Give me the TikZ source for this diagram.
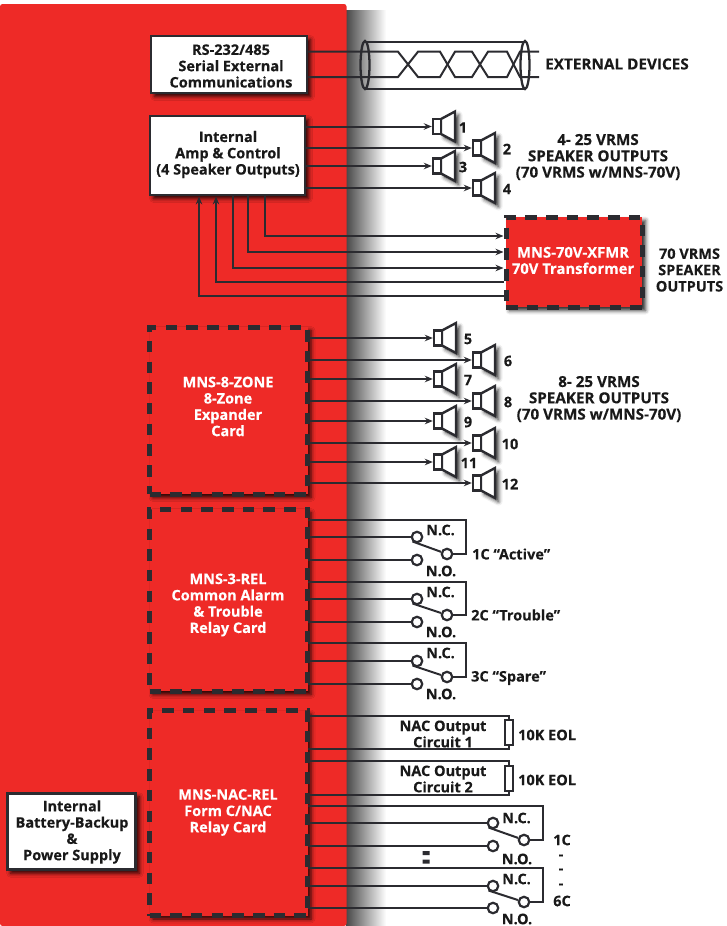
\documentclass[tikz,border=0pt]{standalone}
\usepackage{fontspec}
\setmainfont[BoldFeatures={FakeBold=0.25}]{Open Sans}
\usetikzlibrary{arrows.meta,shadows.blur}
\definecolor{panelred}{HTML}{EE2A27}
\definecolor{ink}{HTML}{2B2B30}
\tikzset{
  label/.style={font=\bfseries\fontsize{14.5}{16.3}\selectfont,text=black!90,align=center,inner sep=0pt},
  capslabel/.style={label,font=\bfseries\fontsize{15.2}{16.3}\selectfont},
  whitelabel/.style={label,text=white},
  softshadow/.style={blur shadow={shadow xshift=3.5pt,shadow yshift=-3.5pt,shadow blur radius=4pt,shadow opacity=85}},
  whitebox/.style={draw=ink,line width=2.8pt,fill=white,softshadow,inner sep=0pt},
  cardbox/.style={draw=ink,line width=5pt,dash pattern=on 11.5pt off 9.2pt,fill=panelred,softshadow,inner sep=0pt},
  wire/.style={draw=ink,line width=2pt},
  spkbox/.style={draw=ink,line width=2.4pt,fill=white,minimum width=8pt,minimum height=15pt,inner sep=0pt},
  spkcone/.style={draw=ink,line width=2.4pt,fill=white,line join=miter,softshadow},
  term/.style={circle,draw=ink,line width=2.2pt,fill=white,minimum size=10.5pt,inner sep=0pt},
  eol/.style={draw=ink,line width=2pt,fill=white,minimum width=8pt,minimum height=25pt,inner sep=0pt}
}
\begin{document}
\begin{tikzpicture}[x=1pt,y=-1pt,>={Stealth[length=8pt,width=6.5pt]}]
  \useasboundingbox (0,0) rectangle (726,926);
  % chassis
  \shade[left color=black!72,middle color=black!22,right color=white] (346,10) rectangle (386,926);
  \fill[panelred,rounded corners=2.5pt] (0,4) -- (346.5,4) -- (346.5,926) -- (0,926) -- cycle;

  % boxes
  \node[whitebox,minimum width=156pt,minimum height=57pt] (serial) at (229,64.5) {};
  \node[label] (seriallbl) at (231,66) {RS-232/485\\Serial External\\Communications};
  \node[whitebox,minimum width=155pt,minimum height=79pt] (amp) at (227.5,155.5) {};
  \node[label] (amplbl) at (228,154.5) {Internal\\Amp \& Control\\(4 Speaker Outputs)};
  \node[whitebox,minimum width=128.5pt,minimum height=76.5pt] (power) at (71.5,831.5) {};
  \node[label] (powerlbl) at (72,832) {Internal\\Battery-Backup\\\&\\Power Supply};
  \node[cardbox,minimum width=158pt,minimum height=167pt] (zone) at (228.5,410.5) {};
  \node[whitelabel] (zonelbl) at (228,406.5) {MNS-8-ZONE\\8-Zone\\Expander\\Card};
  \node[cardbox,minimum width=158pt,minimum height=182pt] (relay) at (228.5,600) {};
  \node[whitelabel] (relaylbl) at (228,605) {MNS-3-REL\\Common Alarm\\\& Trouble\\Relay Card};
  \node[cardbox,minimum width=158pt,minimum height=205pt] (nac) at (228.5,813) {};
  \node[whitelabel] (naclbl) at (228,812.5) {MNS-NAC-REL\\Form C/NAC\\Relay Card};
  \node[cardbox,minimum width=136pt,minimum height=90pt] (xfmr) at (574,262) {};
  \node[whitelabel,font=\bfseries\fontsize{14.8}{16.3}\selectfont] (xfmrlbl) at (573,260.5) {MNS-70V-XFMR\\70V Transformer};

  % twisted pair
  \coordinate (upper) at (539,51.7);
  \coordinate (lower) at (539,77);
  \draw[wire] (serial.east |- upper) -- (398,51.7) -- (418,77) -- (440,77) -- (455,51.7) -- (472,51.7) -- (488,77) -- (507,77) -- (520,51.7) -- (upper);
  \draw[wire] (serial.east |- lower) -- (398,77) -- (418,51.7) -- (440,51.7) -- (455,77) -- (472,77) -- (488,51.7) -- (507,51.7) -- (520,77) -- (lower);
  \draw[wire] (365,41.5) -- (525,41.5) (365,89) -- (525,89);
  \draw[wire,line width=2.3pt] (365,65) ellipse (4.5 and 24);
  \draw[wire,line width=2.3pt] (525,65) ellipse (4.5 and 24);
  \node[label,anchor=west,font=\bfseries\fontsize{15.3}{17}\selectfont] (extlbl) at (545,64) {EXTERNAL DEVICES};

  % speakers
  \foreach \n/\src/\xa/\ya/\xl in {1/amp/437/126.5/463,2/amp/477/148/507,3/amp/437/166/463,4/amp/477/188/507,
      5/zone/438/338/468,6/zone/477/360/508,7/zone/438/379/468,8/zone/477/401/508,
      9/zone/438/421/468,10/zone/477/443/510,11/zone/438/462/469,12/zone/477/483/510} {
    \draw[spkcone] (\xa+4,\ya-7.5) -- ++(14,-7.5) -- ++(0,30) -- ++(-14,-7.5) -- cycle;
    \node[spkbox] (spk\n) at (\xa,\ya) {};
    \draw[wire,->] ([xshift=-2.5pt]\src.east |- spk\n) -- (spk\n);
    \node[label] (spklbl\n) at (\xl,\ya+1) {\n};
  }
  \node[capslabel] (out4lbl) at (598,157) {4- 25 VRMS\\SPEAKER OUTPUTS\\(70 VRMS w/MNS-70V)};
  \node[capslabel] (out8lbl) at (599,399) {8- 25 VRMS\\SPEAKER OUTPUTS\\(70 VRMS w/MNS-70V)};

  % transformer
  \coordinate (a1) at (265,236);
  \coordinate (a2) at (248,252);
  \coordinate (a3) at (232.5,268);
  \coordinate (a4) at (216,282);
  \coordinate (a5) at (199,296);
  \draw[wire,->] (amp.south -| a1) -- (a1) -- (xfmr.west |- a1);
  \draw[wire,->] (amp.south -| a2) -- (a2) -- (xfmr.west |- a2);
  \draw[wire,->] (amp.south -| a3) -- (a3) -- (xfmr.west |- a3);
  \draw[wire,->] (xfmr.west |- a4) -- (a4) -- (amp.south -| a4);
  \draw[wire,->] (xfmr.west |- a5) -- (a5) -- (amp.south -| a5);
  \node[label] (xfmroutlbl) at (689.5,270) {70 VRMS\\SPEAKER\\OUTPUTS};

  % relay contacts
  \foreach \n/\src/\xa/\xb/\xc/\tp/\nc/\cm/\no/\lc/\lo in {
      1/relay/417/447/466/520/537/554/560/530/571,
      2/relay/417/447/466/582/599/615/622/592/632,
      3/relay/417/447/466/643/661/677/684/653/694,
      4/nac/493/524/543/806/823/840/846/818/859,
      5/nac/493/524/543/868/886/902/908/879/919} {
    \node[term] (nc\n) at (\xa,\nc) {};
    \node[term] (com\n) at (\xb,\cm) {};
    \node[term] (no\n) at (\xa,\no) {};
    \coordinate (loop\n) at (\xc,\tp);
    \draw[wire] ([xshift=-2.5pt]\src.east |- loop\n) -- (loop\n) |- (com\n);
    \draw[wire] ([xshift=-2.5pt]\src.east |- nc\n) -- (nc\n);
    \draw[wire] ([xshift=-2.5pt]\src.east |- no\n) -- (no\n);
    \draw[wire] (nc\n.south west) -- (com\n);
    \node[label] (nclbl\n) at (\xa+23.5,\lc) {N.C.};
    \node[label] (nolbl\n) at (\xa+24,\lo) {N.O.};
  }
  \node[label,anchor=west] (c1lbl) at (472,554) {1C “Active”};
  \node[label,anchor=west] (c2lbl) at (471,615) {2C “Trouble”};
  \node[label,anchor=west] (c3lbl) at (471,678) {3C “Spare”};
  \node[label] (nac1lbl) at (562,840) {1C};
  \node[label] (dash1) at (561,857) {-};
  \node[label] (dash2) at (561,871) {-};
  \node[label] (dash3) at (561,886) {-};
  \node[label] (nac6lbl) at (562,901) {6C};
  \fill[ink] (422.5,851) rectangle (429.5,855) (422.5,859.5) rectangle (429.5,863.5);

  % NAC circuits
  \node[eol] (eol1) at (509,732.5) {};
  \node[eol] (eol2) at (509,778.5) {};
  \coordinate (t1) at (509,716);
  \coordinate (b1) at (509,749);
  \coordinate (t2) at (509,761);
  \coordinate (b2) at (509,795);
  \draw[wire] ([xshift=-2.5pt]nac.east |- t1) -- (t1) -- (eol1);
  \draw[wire] ([xshift=-2.5pt]nac.east |- b1) -- (b1) -- (eol1);
  \draw[wire] ([xshift=-2.5pt]nac.east |- t2) -- (t2) -- (eol2);
  \draw[wire] ([xshift=-2.5pt]nac.east |- b2) -- (b2) -- (eol2);
  \node[label] (nacc1) at (443,734) {NAC Output\\Circuit 1};
  \node[label] (nacc2) at (443,779) {NAC Output\\Circuit 2};
  \node[label,anchor=west] (eol1lbl) at (518,735) {10K EOL};
  \node[label,anchor=west] (eol2lbl) at (518,780) {10K EOL};
\end{tikzpicture}
\end{document}
